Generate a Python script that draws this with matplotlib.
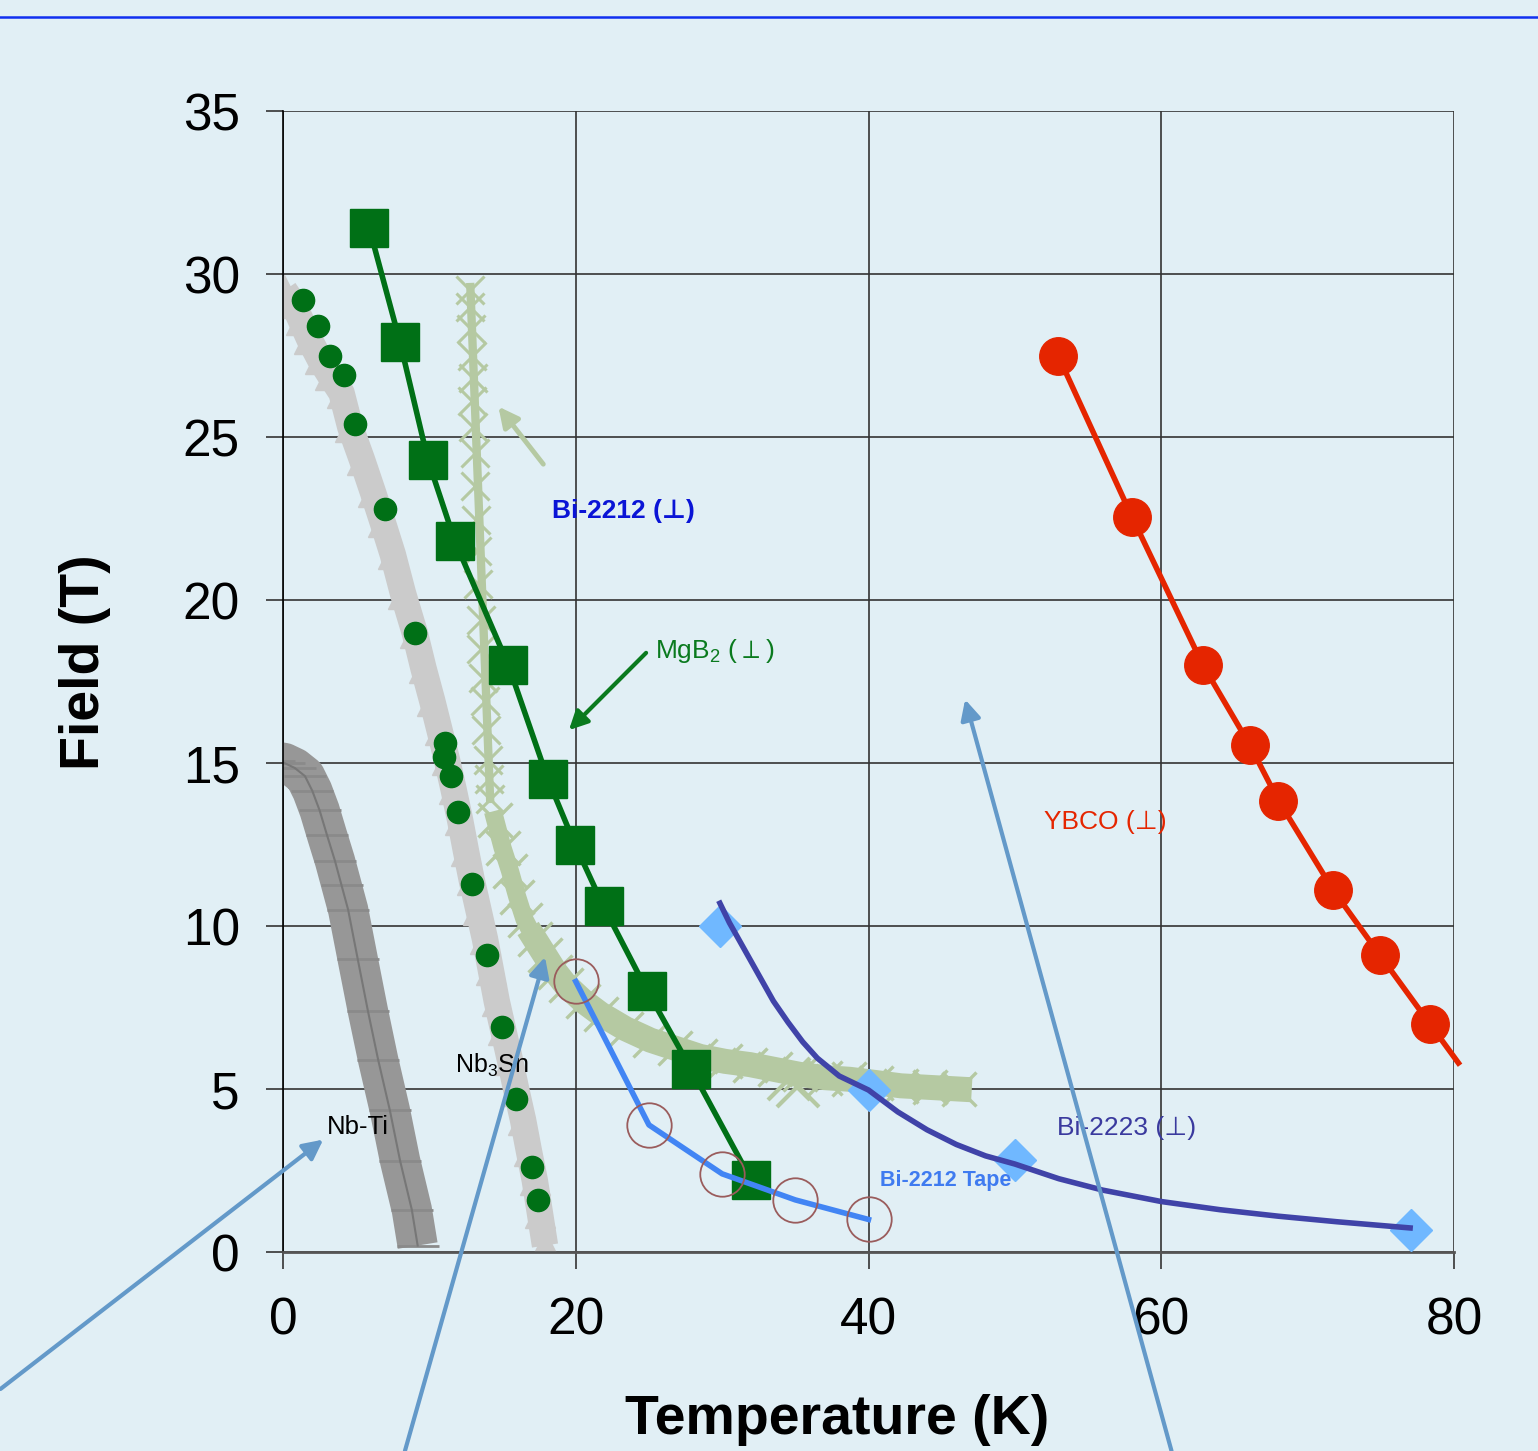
import numpy as np
import matplotlib.pyplot as plt
from matplotlib.lines import Line2D

plt.rcParams['font.family'] = ['Liberation Sans', 'DejaVu Sans']
plt.rcParams['mathtext.fontset'] = 'custom'
plt.rcParams['mathtext.rm'] = 'Liberation Sans'

# --- data (T in K, B in tesla) ---
mgb2_T = [5.9, 8.0, 9.9, 11.75, 15.4, 18.1, 19.95, 21.9, 24.9, 27.9, 32.0]
mgb2_B = [31.4, 27.9, 24.3, 21.8, 18.0, 14.5, 12.5, 10.6, 8.0, 5.6, 2.2]

nb3sn_pts_T = [1.4, 2.4, 3.2, 4.2, 4.9, 7.0, 9.0, 11.07, 11.0, 11.5, 11.95, 12.9, 13.95, 14.95, 15.9, 17.0, 17.4]
nb3sn_pts_B = [29.2, 28.4, 27.5, 26.9, 25.4, 22.8, 19.0, 15.6, 15.2, 14.6, 13.5, 11.3, 9.1, 6.9, 4.7, 2.6, 1.6]

nb3sn_T = [0.1, 0.7, 1.2, 1.8, 2.5, 3.2, 4.0, 4.6, 5.4, 6.15, 6.8, 7.5, 8.2, 9.0, 9.6, 10.2, 10.7, 11.2, 11.65, 12.1,
           12.5, 12.9, 13.35, 13.8, 14.2, 14.6, 15.05, 15.5, 15.95, 16.4, 16.8, 17.2, 17.55, 17.9]
nb3sn_B = [29.5, 29.1, 28.6, 28.0, 27.4, 26.9, 26.35, 25.3, 24.3, 23.3, 22.4, 21.4, 20.2, 19.0, 17.9, 16.9, 16.0, 15.1, 14.2, 13.25,
           12.3, 11.4, 10.5, 9.6, 8.65, 7.7, 6.8, 5.9, 4.95, 4.05, 3.1, 2.2, 1.2, 0.2]

nbti_T = [-0.6, 0.1, 0.8, 1.5, 2.0, 2.5, 3.0, 3.55, 4.0, 4.45, 5.1, 5.8, 6.5, 7.3, 8.0, 8.8, 9.2]
nbti_B = [15.05, 15.0, 14.85, 14.6, 14.15, 13.55, 12.8, 12.0, 11.25, 10.5, 9.0, 7.4, 5.9, 4.35, 2.8, 1.3, 0.2]

bi2212_stem_T = [12.8, 12.8, 12.85, 12.9, 12.95, 12.9, 13.0, 13.1, 13.15, 13.2, 13.25, 13.3, 13.5, 13.55, 13.65,
                 13.8, 13.85, 14.0, 14.05, 14.15]
bi2212_stem_B = [29.5, 29.0, 28.3, 27.5, 26.8, 26.1, 25.3, 24.5, 23.5, 22.45, 21.5, 20.5, 19.4, 18.5, 17.6,
                 16.9, 16.0, 15.1, 14.5, 13.9]
bi2212_T = [14.5, 15.0, 15.5, 16.0, 16.5, 17.2, 17.9, 18.6, 19.3, 20.5, 21.7, 23.4, 25.1, 26.8, 28.5, 30.2, 31.9,
            33.6, 35.3, 37.0, 38.7, 40.5, 42.2, 44.2, 46.2]
bi2212_B = [13.25, 12.4, 11.7, 10.9, 10.2, 9.6, 9.1, 8.6, 8.2, 7.7, 7.3, 6.85, 6.5, 6.25, 6.0, 5.85, 5.75,
            5.6, 5.45, 5.35, 5.3, 5.2, 5.1, 5.05, 5.0]
bi2212_extra_T = [34.6, 35.2]
bi2212_extra_B = [5.3, 5.1]

tape_T = [20, 25, 30, 35, 40]
tape_B = [8.3, 3.9, 2.4, 1.6, 1.0]

bi2223_T = [29.85, 30.5, 31.5, 32.5, 33.5, 34.5, 35.5, 36.5, 38, 40, 42, 44, 46, 48, 50, 53, 56, 60, 64, 68, 72, 77]
bi2223_B = [10.7, 10.1, 9.3, 8.5, 7.7, 7.05, 6.45, 5.95, 5.4, 4.97, 4.3, 3.75, 3.3, 2.95, 2.7, 2.25, 1.9, 1.55, 1.3,
            1.1, 0.93, 0.74]
bi2223_pts_T = [29.85, 40.0, 50.0, 77.05]
bi2223_pts_B = [10.0, 4.97, 2.82, 0.67]

ybco_T = [52.95, 58.0, 62.85, 66.05, 68.0, 71.75, 74.95, 78.35]
ybco_B = [27.5, 22.55, 18.0, 15.55, 13.85, 11.1, 9.1, 7.0]

bg = '#e1eff5'
fig = plt.figure(figsize=(15.38, 14.51), dpi=100, facecolor=bg)
ax = fig.add_axes([0.184, 0.1371, 0.7614, 0.7864], facecolor=bg)

# Nb-Ti band
ax.plot(nbti_T, nbti_B, '-', color='#979797', lw=29, solid_capstyle='butt', zorder=2)
ax.plot(nbti_T, nbti_B, '_', color='#8a8a8a', ms=30, mew=2, zorder=2)
ax.plot(nbti_T[1:], nbti_B[1:], '-', color='#777777', lw=1.5, zorder=2)

# Nb3Sn band of triangles + data dots
ax.plot(nb3sn_T, nb3sn_B, '-', color='#cbcbcb', lw=19, solid_capstyle='butt', zorder=2)
ax.plot(nb3sn_T, nb3sn_B, '^', color='#cbcbcb', ms=22, zorder=2)
ax.plot(nb3sn_pts_T, nb3sn_pts_B, 'o', color='#007016', ms=16, zorder=4)

# Bi-2212 round wire (light green crosses)
lg = '#b5c9a2'
ax.plot([bi2212_stem_T[0], bi2212_stem_T[-1]], [bi2212_stem_B[0] + 0.1, bi2212_stem_B[-1]], '-', color=lg, lw=6, zorder=3)
ax.plot(bi2212_stem_T, bi2212_stem_B, 'x', color=lg, ms=20, mew=2.2, zorder=3)
ax.plot(bi2212_T[:6], bi2212_B[:6], '-', color=lg, lw=13, zorder=3)
ax.plot(bi2212_T[5:], bi2212_B[5:], '-', color=lg, lw=18, zorder=3)
ax.plot(bi2212_T, bi2212_B, 'x', color=lg, ms=25, mew=2.4, zorder=3)
ax.plot(bi2212_extra_T, bi2212_extra_B, 'x', color=lg, ms=30, mew=3, zorder=3)

# MgB2
ax.plot(mgb2_T, mgb2_B, 's-', color='#007016', ms=27, lw=4, zorder=5)

# Bi-2212 tape
ax.plot(tape_T, tape_B, '-', color='#4285f4', lw=4, zorder=6)
ax.plot(tape_T, tape_B, 'o', mfc='none', mec='#9a5c5c', mew=1.3, ms=32, zorder=6)

# Bi-2223
ax.plot(bi2223_pts_T, bi2223_pts_B, 'D', color='#70b8ff', ms=21, zorder=6)
ax.plot(bi2223_T, bi2223_B, '-', color='#4043a8', lw=4, zorder=7)

# YBCO
ax.plot(ybco_T, ybco_B, '-', color='#e52500', lw=4, zorder=7)
ax.plot([ybco_T[-1], 80.3], [ybco_B[-1], 5.8], '-', color='#e52500', lw=4, zorder=7, clip_on=False)
ax.plot(ybco_T, ybco_B, 'o', color='#e52500', ms=27, zorder=7)

# labels on the chart
ax.text(18.38, 22.73, 'Bi-2212 (⊥)', color='#0a14d6', fontsize=19, fontweight='bold', va='center', zorder=9)
ax.text(25.4, 18.44, 'MgB$_\\mathregular{2}$ ($\\perp$)', color='#0a7a1e', fontsize=19, va='center', zorder=9)
ax.text(52.0, 13.19, 'YBCO (⊥)', color='#e52500', fontsize=19, va='center', zorder=9)
ax.text(52.9, 3.80, 'Bi-2223 (⊥)', color='#3a3a9e', fontsize=19, va='center', zorder=9)
ax.text(40.8, 2.18, 'Bi-2212 Tape', color='#3f7bf0', fontsize=15.5, fontweight='bold', va='center', zorder=9)
ax.text(11.75, 5.74, 'Nb$_\\mathregular{3}$Sn', color='black', fontsize=18, va='center', zorder=9)
ax.text(3.0, 3.83, 'Nb-Ti', color='black', fontsize=18.5, va='center', zorder=9)

# arrows
ax.annotate('', xy=(19.4, 15.95), xytext=(24.94, 18.44),
            arrowprops=dict(arrowstyle='-|>', color='#0a7a1e', lw=3, mutation_scale=28), zorder=9)
ax.annotate('', xy=(14.6, 26.0), xytext=(17.9, 24.1),
            arrowprops=dict(arrowstyle='-|>', color=lg, lw=3.5, mutation_scale=30), zorder=9)
sb = '#6399c9'
for (x0, y0), (x1, y1) in [((-19.3, -4.2), (2.75, 3.45)),
                           ((8.33, -6.1), (17.9, 9.05)),
                           ((60.7, -6.1), (46.6, 16.95))]:
    ax.annotate('', xy=(x1, y1), xytext=(x0, y0), annotation_clip=False,
                arrowprops=dict(arrowstyle='-|>', color=sb, lw=3, mutation_scale=30,
                                shrinkA=0, shrinkB=0), zorder=10)

ax.set_xlim(0, 80)
ax.set_ylim(0, 35)
ax.set_xticks([0, 20, 40, 60, 80])
ax.set_yticks(range(0, 36, 5))
ax.grid(True, color='#333333', lw=1.2)
ax.set_axisbelow(True)
for s in ['top', 'right']:
    ax.spines[s].set_visible(False)
ax.spines['left'].set_color('black')
ax.spines['left'].set_linewidth(1.2)
ax.spines['bottom'].set_color('#555555')
ax.spines['bottom'].set_linewidth(2)
ax.tick_params(axis='both', labelsize=37, length=12, width=1.2, color='#333333')
ax.tick_params(axis='y', pad=19)
ax.tick_params(axis='x', pad=20)
ax.set_xlabel('Temperature (K)', fontsize=40, fontweight='bold', va='center')
ax.set_ylabel('Field (T)', fontsize=40, fontweight='bold', va='center')
ax.xaxis.set_label_coords(0.473, -0.1475)
ax.yaxis.set_label_coords(-0.169, 0.517)

fig.add_artist(Line2D([0, 1], [0.988, 0.988], color='#1030f0', lw=1.8, transform=fig.transFigure))

fig.savefig('out.png', dpi=100, facecolor=bg)
